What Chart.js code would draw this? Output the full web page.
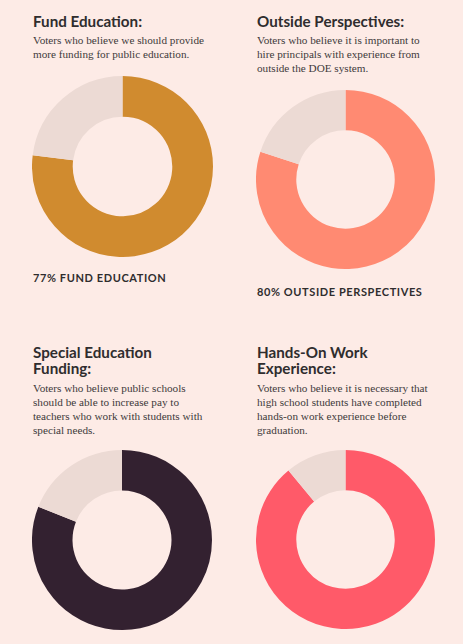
<!DOCTYPE html>
<html>
<head>
<meta charset="utf-8">
<script src="https://cdn.jsdelivr.net/npm/chart.js@4.4.1/dist/chart.umd.min.js"></script>
<style>
  html, body { margin: 0; padding: 0; }
  body { width: 463px; height: 644px; background: #fdebe6; position: relative; overflow: hidden; }
  .title { position: absolute; font-family: "Lato", sans-serif; font-weight: 700; font-size: 15.2px; line-height: 16px; color: #2f2d2e; white-space: nowrap; }
  .desc { position: absolute; font-family: "Liberation Serif", serif; font-size: 11.2px; line-height: 14px; color: #3d3a3b; white-space: nowrap; }
  .label { position: absolute; font-family: "Lato", sans-serif; font-weight: 700; font-size: 11px; line-height: 12px; letter-spacing: 0.6px; color: #2f2d2e; white-space: nowrap; }
  .box { position: absolute; }
</style>
</head>
<body>
<div class="title" style="left:33px;top:13px">Fund Education:</div>
<div class="desc" style="left:33px;top:33px">Voters who believe we should provide<br>more funding for public education.</div>
<div class="box" style="left:32px;top:76px;width:181px;height:181px"><canvas id="c0"></canvas></div>
<div class="label" style="left:33px;top:272px">77% FUND EDUCATION</div>

<div class="title" style="left:257px;top:13px">Outside Perspectives:</div>
<div class="desc" style="left:257px;top:33px">Voters who believe it is important to<br>hire principals with experience from<br>outside the DOE system.</div>
<div class="box" style="left:256px;top:90px;width:179px;height:179px"><canvas id="c1"></canvas></div>
<div class="label" style="left:257px;top:285.5px">80% OUTSIDE PERSPECTIVES</div>

<div class="title" style="left:33px;top:344px">Special Education<br>Funding:</div>
<div class="desc" style="left:33px;top:381px">Voters who believe public schools<br>should be able to increase pay to<br>teachers who work with students with<br>special needs.</div>
<div class="box" style="left:32px;top:450px;width:180px;height:180px"><canvas id="c2"></canvas></div>

<div class="title" style="left:257px;top:344px">Hands-On Work<br>Experience:</div>
<div class="desc" style="left:257px;top:381px">Voters who believe it is necessary that<br>high school students have completed<br>hands-on work experience before<br>graduation.</div>
<div class="box" style="left:256px;top:450px;width:179px;height:179px"><canvas id="c3"></canvas></div>

<script>
// survey results, percent of voters
const categories = ["Fund Education", "Outside Perspectives", "Special Education Funding", "Hands-On Work Experience"];
const agree = [77, 80, 81, 89];
const rest = [23, 20, 19, 11];
const colors = ["#d08b2f", "#ff8a72", "#332130", "#ff5a69"];
const restColor = "#ecdad4";

categories.forEach((name, i) => {
    const ctx = document.getElementById("c" + i).getContext("2d");
    new Chart(ctx, {
        type: "doughnut",
        data: {
            labels: [name, "Other"],
            datasets: [{
                data: [agree[i], rest[i]],
                backgroundColor: [colors[i], restColor],
                borderWidth: 0
            }]
        },
        options: {
            responsive: true,
            maintainAspectRatio: true,
            aspectRatio: 1,
            animation: false,
            cutout: "55%",
            layout: { padding: 0 },
            plugins: {
                legend: { display: false },
                tooltip: { enabled: false }
            }
        }
    });
});
</script>
</body>
</html>
